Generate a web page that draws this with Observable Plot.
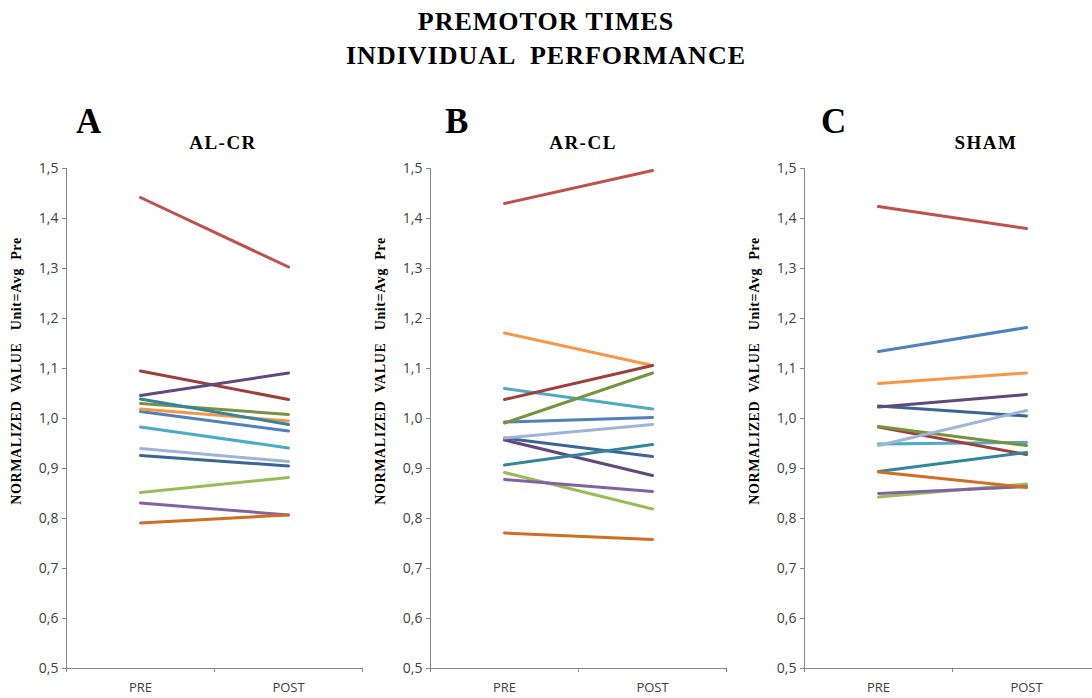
<!DOCTYPE html>
<html>
<head>
<meta charset="utf-8">
<script src="https://cdn.jsdelivr.net/npm/d3@7"></script>
<script src="https://cdn.jsdelivr.net/npm/@observablehq/plot@0.6"></script>
<style>
  html, body { margin: 0; padding: 0; background: #fff; }
  body { width: 1092px; height: 698px; overflow: hidden; position: relative; font-family: "Liberation Serif", "Times New Roman", serif; }
  .abs { position: absolute; white-space: pre; color: #000; font-weight: bold; }
  #title { left: 0; top: 5px; width: 1092px; text-align: center; font-size: 26px; line-height: 34px; letter-spacing: 1px; }
  .letter { font-size: 35px; line-height: 34px; }
  .sub { font-size: 19px; line-height: 19px; letter-spacing: 1.5px; transform: translateX(-50%); }
  .ylab { font-size: 14px; line-height: 14px; letter-spacing: 0.6px; transform: translate(-50%, -50%) rotate(-90deg); }
  .panel { position: absolute; top: 140px; width: 380px; height: 558px; }
  .panel svg { max-width: none !important; }
</style>
</head>
<body>
<script>
// ---- data ----
const phases = ["PRE", "POST"];
const subjects = ["S1","S2","S3","S4","S5","S6","S7","S8","S9","S10","S11","S12","S13"];
const seriesColors = ["#4F81BD","#C0504D","#9BBB59","#8064A2","#4BACC6","#F79646",
                      "#3C6496","#A03E3B","#77933C","#604A7B","#31859C","#D06E24","#9FB5D8"];
const panelLetters = ["A", "B", "C"];
const panelNames = ["AL-CR", "AR-CL", "SHAM"];
const yTicks = [0.5, 0.6, 0.7, 0.8, 0.9, 1.0, 1.1, 1.2, 1.3, 1.4, 1.5];
const yTitle = "NORMALIZED  VALUE   Unit=Avg  Pre";
const mainTitle = ["PREMOTOR TIMES", "INDIVIDUAL  PERFORMANCE"];

const alcrPre  = [1.014, 1.442, 0.852, 0.831, 0.983, 1.019, 0.926, 1.095, 1.030, 1.046, 1.039, 0.791, 0.940];
const alcrPost = [0.975, 1.303, 0.882, 0.807, 0.941, 0.995, 0.905, 1.038, 1.008, 1.091, 0.988, 0.807, 0.914];
const arclPre  = [0.993, 1.430, 0.892, 0.878, 1.060, 1.171, 0.961, 1.038, 0.991, 0.957, 0.907, 0.771, 0.961];
const arclPost = [1.002, 1.496, 0.819, 0.854, 1.019, 1.106, 0.924, 1.106, 1.091, 0.886, 0.948, 0.758, 0.988];
const shamPre  = [1.134, 1.424, 0.843, 0.850, 0.949, 1.070, 1.025, 0.983, 0.984, 1.023, 0.894, 0.893, 0.946];
const shamPost = [1.182, 1.380, 0.869, 0.864, 0.952, 1.091, 1.005, 0.928, 0.946, 1.048, 0.932, 0.862, 1.016];

const panelData = [[alcrPre, alcrPost], [arclPre, arclPost], [shamPre, shamPost]];

// ---- layout (page positions) ----
const panelLeft = [0, 364, 738];
const letterLeft = [76, 445, 821];
const subCenter = [223, 583, 986];

function addDiv(cls, text, css) {
  const d = document.createElement("div");
  d.className = "abs " + cls;
  d.textContent = text;
  Object.assign(d.style, css);
  document.body.appendChild(d);
  return d;
}

addDiv("", mainTitle.join("\n"), {}).id = "title";

function panel(pre, post) {
  const rows = subjects.flatMap((s, i) => [
    {s, phase: phases[0], v: pre[i]},
    {s, phase: phases[1], v: post[i]}
  ]);
  const xpos = d => phases.indexOf(d.phase) + 0.5;
  return Plot.plot({
    width: 380,
    height: 558,
    marginLeft: 66,
    marginRight: 18,
    marginTop: 28,
    marginBottom: 30,
    style: {fontFamily: "'Open Sans', sans-serif", fontSize: "14px", background: "transparent", overflow: "visible", color: "#404040", maxWidth: "none"},
    x: {domain: [0, phases.length]},
    y: {domain: [0.5, 1.5]},
    color: {domain: subjects, range: seriesColors},
    marks: [
      Plot.ruleX([0], {stroke: "#868686", strokeWidth: 1}),
      Plot.ruleY([0.5], {stroke: "#868686", strokeWidth: 1}),
      Plot.axisY({ticks: yTicks, tickSize: 4, tickPadding: 4, label: null,
                  tickFormat: d => d.toFixed(1).replace(".", ","),
                  stroke: "#868686", fill: "#404040", fontSize: 14}),
      Plot.axisX({ticks: d3.range(phases.length + 1), tickSize: 4, label: null,
                  tickFormat: () => "", stroke: "#868686"}),
      Plot.axisX({ticks: phases.map((p, i) => i + 0.5), tickSize: 0, tickPadding: 14, label: null,
                  tickFormat: d => phases[Math.floor(d)], fill: "#404040", fontSize: 13}),
      Plot.line(rows, {x: xpos, y: "v", z: "s", stroke: "s", strokeWidth: 3, strokeLinecap: "round"})
    ]
  });
}

panelData.forEach(([pre, post], k) => {
  const wrap = document.createElement("div");
  wrap.className = "panel";
  wrap.style.left = panelLeft[k] + "px";
  wrap.appendChild(panel(pre, post));
  document.body.appendChild(wrap);
  addDiv("letter", panelLetters[k], {left: letterLeft[k] + "px", top: "105px"});
  addDiv("sub", panelNames[k], {left: subCenter[k] + "px", top: "133px"});
  addDiv("ylab", yTitle, {left: (panelLeft[k] + 16.5) + "px", top: "371px"});
});
</script>
</body>
</html>
